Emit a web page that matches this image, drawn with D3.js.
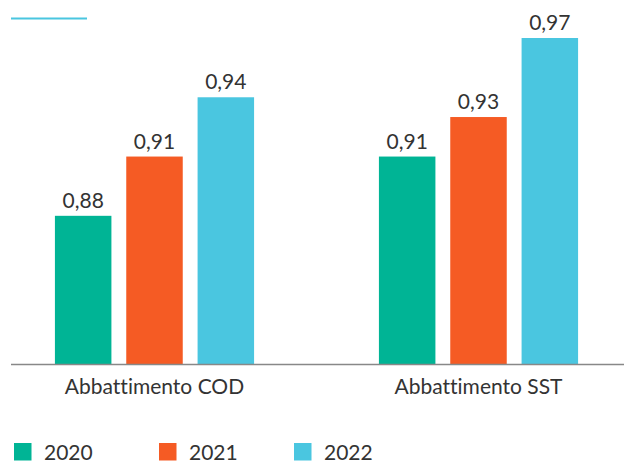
<!DOCTYPE html>
<html><head><meta charset="utf-8">
<script src="https://cdn.jsdelivr.net/npm/d3@7"></script>
<style>html,body{margin:0;padding:0;background:#fff;}svg{display:block;font-family:Lato,"DejaVu Sans",sans-serif;font-variant-ligatures:none;}</style>
</head><body>
<svg id="c" width="625" height="462"></svg>
<script>
const categories = ["Abbattimento COD", "Abbattimento SST"];
const years = ["2020", "2021", "2022"];
const values2020 = [0.88, 0.91];
const values2021 = [0.91, 0.93];
const values2022 = [0.94, 0.97];
const colors = ["#00b495", "#f55b24", "#4ac6e0"];

const series = [values2020, values2021, values2022];
const data = categories.map((c, i) => ({cat: c, vals: years.map((y, j) => ({year: y, v: series[j][i]}))}));

const svg = d3.select("#c");
const x0 = d3.scaleBand().domain(categories).range([-7.5, 640.5]).padding(0);
const x1 = d3.scaleBand().domain(years).range([-107, 107]).paddingInner(0.208).paddingOuter(0.104);
const y = d3.scaleLinear().domain([0.805, 0.97]).range([364, 38]);
const color = d3.scaleOrdinal().domain(years).range(colors);
const fmt = v => d3.format(".2f")(v).replace(".", ",");

// top decorative line
svg.append("line").attr("x1", 11).attr("x2", 87).attr("y1", 18.5).attr("y2", 18.5)
  .attr("stroke", "#4ac6e0").attr("stroke-width", 2);

const g = svg.selectAll("g.grp").data(data).join("g").attr("class", "grp")
  .attr("transform", d => `translate(${x0(d.cat) + x0.bandwidth() / 2},0)`);

g.selectAll("rect").data(d => d.vals).join("rect")
  .attr("x", d => x1(d.year)).attr("width", x1.bandwidth())
  .attr("y", d => y(d.v)).attr("height", d => y.range()[0] - y(d.v))
  .attr("fill", d => color(d.year));

g.selectAll("text.val").data(d => d.vals).join("text").attr("class", "val")
  .attr("x", d => x1(d.year) + x1.bandwidth() / 2).attr("y", d => y(d.v) - 8)
  .attr("text-anchor", "middle").attr("font-size", 21).attr("fill", "#333")
  .text(d => fmt(d.v));

// axis
const axis = svg.append("g").attr("transform", `translate(0,${y.range()[0]})`)
  .call(d3.axisBottom(x0).tickSize(0).tickPadding(0));
axis.select(".domain").attr("d", "M11,0.5H624").attr("stroke", "#888").attr("stroke-width", 1.5);
axis.selectAll(".tick text").attr("font-size", 21).attr("fill", "#333").attr("font-family", "Lato")
  .attr("y", 0).attr("dy", 30);

// legend
const legX = [14, 159, 294];
const leg = svg.selectAll("g.leg").data(years).join("g").attr("class", "leg")
  .attr("transform", (d, i) => `translate(${legX[i]},443)`);
leg.append("rect").attr("width", 17.5).attr("height", 17.5).attr("fill", d => color(d));
leg.append("text").attr("x", 30).attr("y", 16.5).attr("font-size", 21).attr("fill", "#333").text(d => d);
</script>
</body></html>
